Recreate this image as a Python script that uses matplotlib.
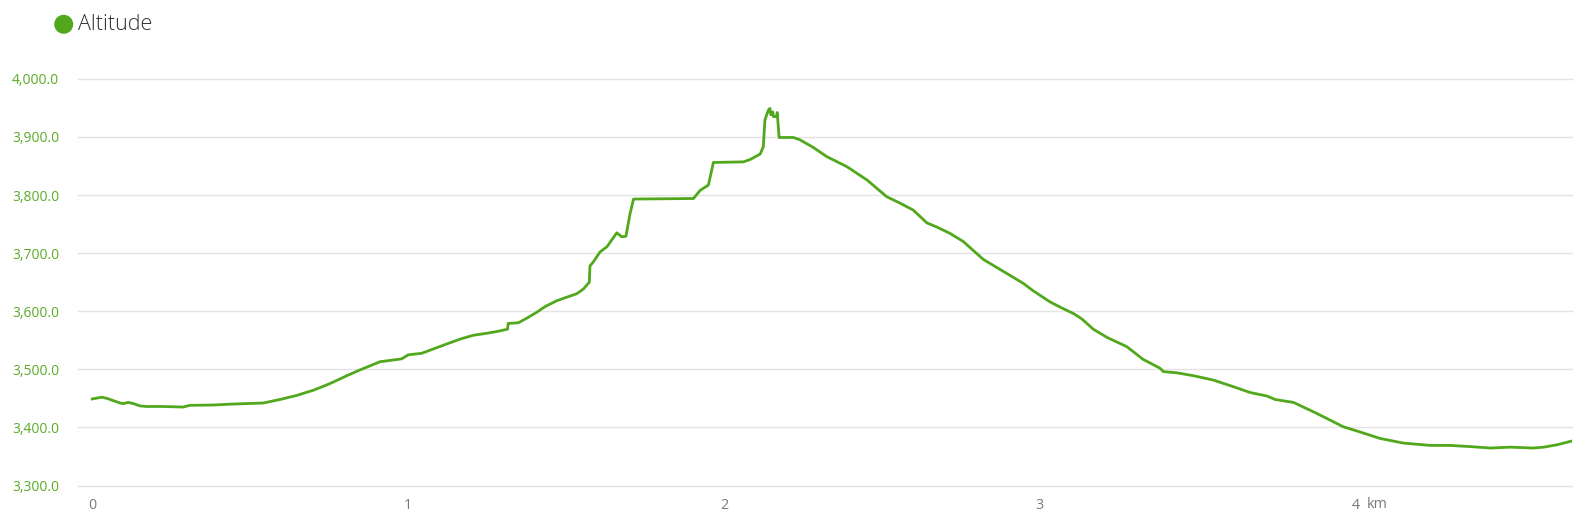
import matplotlib
matplotlib.use("Agg")
import matplotlib.pyplot as plt
from matplotlib.patches import Circle

# Distance (km) and altitude (m)
distance_km = [0.0, 0.03, 0.046, 0.067, 0.088, 0.098, 0.114, 0.13, 0.151, 0.172, 0.225, 0.288,
               0.309, 0.383, 0.436, 0.542, 0.568, 0.594, 0.647, 0.70, 0.742, 0.763, 0.806, 0.848,
               0.911, 0.953, 0.98, 1.001, 1.043, 1.07, 1.122, 1.165, 1.206, 1.249, 1.281, 1.315,
               1.317, 1.349, 1.376, 1.407, 1.434, 1.471, 1.502, 1.534, 1.555, 1.574, 1.576, 1.587,
               1.608, 1.63, 1.661, 1.677, 1.69, 1.703, 1.714, 1.904, 1.925, 1.951, 1.967, 2.062,
               2.083, 2.115, 2.125, 2.13, 2.141, 2.146, 2.149, 2.155, 2.157, 2.167, 2.169, 2.175,
               2.22, 2.241, 2.283, 2.326, 2.389, 2.453, 2.516, 2.558, 2.60, 2.643, 2.674, 2.716,
               2.758, 2.822, 2.896, 2.948, 2.98, 3.033, 3.065, 3.107, 3.133, 3.17, 3.213, 3.276,
               3.328, 3.381, 3.392, 3.434, 3.487, 3.55, 3.614, 3.667, 3.72, 3.746, 3.804, 3.878,
               3.962, 4.004, 4.078, 4.152, 4.237, 4.3, 4.363, 4.427, 4.49, 4.564, 4.596, 4.638,
               4.685]
altitude_m = [3449, 3452, 3450, 3446, 3442, 3441, 3443, 3441, 3437, 3436, 3436, 3435,
              3438, 3438.5, 3440, 3442, 3445, 3448, 3455, 3464, 3473, 3478, 3489, 3499,
              3513, 3516, 3518, 3525, 3527.5, 3533, 3543.5, 3552, 3558.5, 3562, 3565, 3569,
              3579, 3580, 3588, 3598, 3608, 3618, 3624, 3630, 3638, 3650, 3678, 3685,
              3702, 3711, 3735, 3728, 3729, 3768, 3793, 3794, 3808, 3817, 3856, 3857,
              3861, 3870.5, 3883, 3929, 3946, 3949, 3938, 3943, 3935, 3935, 3942, 3899,
              3899, 3895, 3882, 3866, 3849, 3826, 3797, 3786, 3774, 3752, 3745, 3734,
              3720, 3689, 3665, 3648, 3635, 3616, 3607, 3596, 3587, 3569, 3555, 3539,
              3517, 3502, 3496, 3494, 3489, 3481.5, 3470, 3460, 3454, 3448, 3443, 3424,
              3401, 3394, 3381, 3373, 3369, 3369, 3367, 3364.5, 3366, 3364.5, 3366, 3370,
              3376.5]

y_ticks = [3300, 3400, 3500, 3600, 3700, 3800, 3900, 4000]
x_ticks = [0, 1, 2, 3, 4]
x_tick_labels = ["0", "1", "2", "3", "4"]
series_name = "Altitude"
x_unit = "km"

W, H = 1591, 525
fig = plt.figure(figsize=(W / 100, H / 100), dpi=100)
fig.patch.set_facecolor("white")

left, right = 78, 1572
top, bottom = 78.8, 485.5
ax = fig.add_axes([left / W, 1 - bottom / H, (right - left) / W, (bottom - top) / H])

green = "#52a81c"
ax.plot(distance_km, altitude_m, color=green, lw=2.0, solid_joinstyle="round", zorder=3)

ax.set_xlim(-0.0453, 4.686)
ax.set_ylim(3300, 4000)
ax.set_yticks(y_ticks)
ax.set_yticklabels([f"{v:,.1f}" for v in y_ticks])
ax.set_xticks(x_ticks)
ax.set_xticklabels(x_tick_labels)

for s in ax.spines.values():
    s.set_visible(False)
ax.grid(axis="y", color="#e3e3e3", lw=1.0)
ax.grid(axis="x", visible=False)
ax.set_axisbelow(True)
for gl in ax.get_ygridlines():
    gl.set_clip_on(False)

font = "Open Sans"
ax.tick_params(axis="y", length=0, pad=13.5, labelcolor="#5aab25", labelsize=10)
ax.tick_params(axis="x", length=0, pad=9, labelcolor="#7a7a7a", labelsize=10.3)
for lab in ax.get_yticklabels() + ax.get_xticklabels():
    lab.set_fontfamily(font)

ax.annotate(x_unit, xy=(4, 3300), xycoords="data", xytext=(8, -13.5), textcoords="offset points",
            ha="left", va="center", color="#7a7a7a", fontsize=10.3, fontfamily=font)

# legend
fig.patches.append(Circle((63.7, H - 24.3), 9.5, transform=None, facecolor=green, edgecolor="none"))
fig.text(78.5 / W, 1 - 25 / H, series_name, ha="left", va="center", fontsize=15.5,
         color="#333333", fontfamily=font, fontweight="light")

fig.savefig("out.png", dpi=100, facecolor="white")
